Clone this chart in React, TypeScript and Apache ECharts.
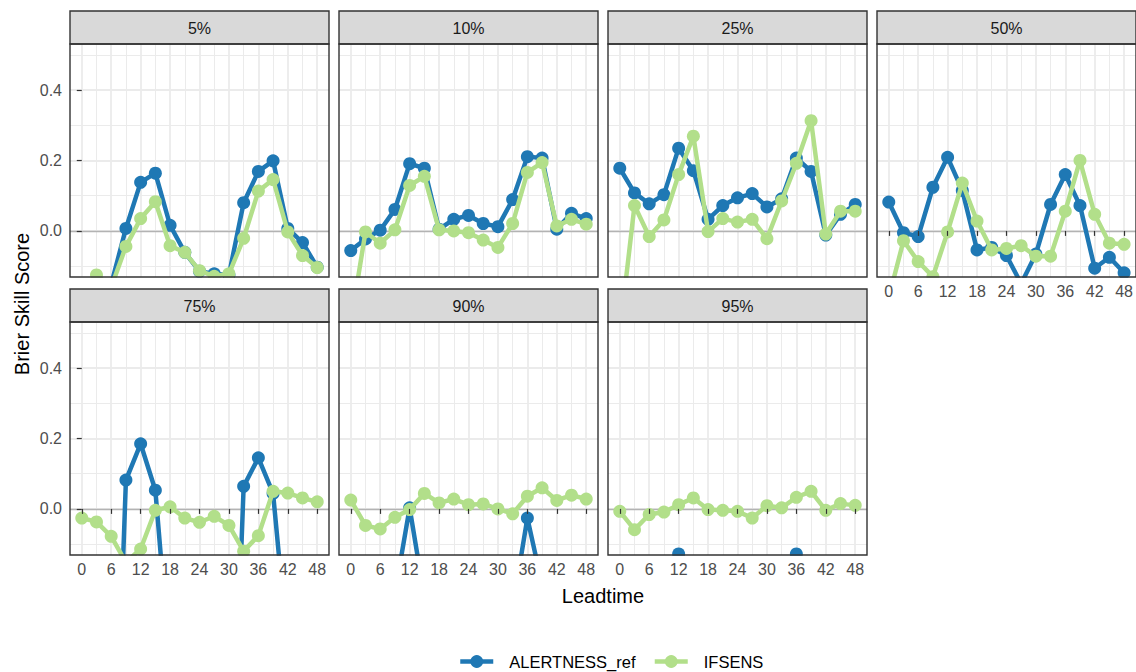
import React, { useEffect, useRef } from 'react';
import * as echarts from 'echarts';

// ---------- data ----------
const leadtimes = [0, 3, 6, 9, 12, 15, 18, 21, 24, 27, 30, 33, 36, 39, 42, 45, 48];
const panelLabels = ['5%', '10%', '25%', '50%', '75%', '90%', '95%'];
const seriesNames = ['ALERTNESS_ref', 'IFSENS'];
const xTickValues = [0, 6, 12, 18, 24, 30, 36, 42, 48];
const yTickValues = [0, 0.2, 0.4];
const xGridValues = [0, 3, 6, 9, 12, 15, 18, 21, 24, 27, 30, 33, 36, 39, 42, 45, 48];
const yGridValues = [-0.1, 0, 0.1, 0.2, 0.3, 0.4, 0.5];

const alert05 = [-0.35, -0.28, -0.152, 0.007, 0.138, 0.164, 0.016, -0.061, -0.115, -0.122, -0.125, 0.08, 0.169, 0.199, 0.007, -0.033, -0.103];
const ifs05 = [-0.3, -0.125, -0.16, -0.044, 0.035, 0.083, -0.042, -0.061, -0.113, -0.129, -0.122, -0.021, 0.113, 0.146, -0.003, -0.07, -0.104];

const alert10 = [-0.056, -0.023, 0.002, 0.061, 0.191, 0.178, 0.005, 0.033, 0.044, 0.021, 0.012, 0.089, 0.211, 0.207, 0.005, 0.05, 0.035];
const ifs10 = [-0.26, -0.003, -0.035, 0.003, 0.129, 0.155, 0.003, 0.0, -0.005, -0.026, -0.047, 0.021, 0.166, 0.194, 0.014, 0.033, 0.019];

const alert25 = [0.178, 0.108, 0.077, 0.103, 0.235, 0.171, 0.033, 0.072, 0.094, 0.106, 0.068, 0.091, 0.207, 0.169, -0.012, 0.047, 0.075];
const ifs25 = [-0.29, 0.072, -0.016, 0.031, 0.16, 0.269, -0.002, 0.035, 0.025, 0.033, -0.022, 0.085, 0.192, 0.313, -0.009, 0.056, 0.056];

const alert50 = [0.082, -0.005, -0.016, 0.124, 0.209, 0.115, -0.054, -0.047, -0.07, -0.15, -0.066, 0.075, 0.16, 0.072, -0.106, -0.075, -0.119];
const ifs50 = [-0.19, -0.028, -0.087, -0.13, -0.003, 0.136, 0.028, -0.054, -0.05, -0.042, -0.072, -0.072, 0.056, 0.2, 0.047, -0.035, -0.038];

const alert75 = [-1.2, -1.0, -1.1, 0.082, 0.185, 0.053, -0.45, -0.9, -1.0, -0.9, -1.05, 0.064, 0.145, 0.044, -0.4, -0.9, -1.0];
const ifs75 = [-0.026, -0.037, -0.078, -0.152, -0.114, -0.004, 0.006, -0.026, -0.038, -0.021, -0.047, -0.12, -0.076, 0.05, 0.045, 0.031, 0.02];

const alert90 = [-1.0, -0.9, -1.0, -0.24, 0.003, -0.25, -0.9, -1.0, -0.9, -1.0, -0.95, -0.28, -0.026, -0.215, -1.0, -0.9, -1.0];
const ifs90 = [0.025, -0.047, -0.057, -0.024, -0.002, 0.044, 0.017, 0.028, 0.012, 0.014, 0.0, -0.014, 0.036, 0.06, 0.024, 0.039, 0.028];

const alert95 = [-1.5, -1.5, -1.5, -1.5, -0.128, -1.5, -1.5, -1.5, -1.5, -1.5, -1.5, -1.5, -0.128, -1.5, -1.5, -1.5, -1.5];
const ifs95 = [-0.007, -0.059, -0.016, -0.009, 0.012, 0.031, -0.002, -0.004, -0.007, -0.026, 0.009, 0.003, 0.033, 0.05, -0.004, 0.015, 0.01];

const alertByPanel = [alert05, alert10, alert25, alert50, alert75, alert90, alert95];
const ifsByPanel = [ifs05, ifs10, ifs25, ifs50, ifs75, ifs90, ifs95];

// ---------- styling / layout ----------
const BLUE = '#1F78B4';
const GREEN = '#B2DF8A';
const FONT = '"Liberation Sans", Arial, Helvetica, sans-serif';
const COL_LEFT = [70, 339, 608, 877];
const ROW_TOP = [44, 322];
const STRIP_TOP = [11, 289];
const PW = 259;
const PH = 233;
const SH = 33;
const X_MIN = -2.4;
const X_MAX = 50.4;
const Y_MIN = -0.131;
const Y_MAX = 0.531;

export default function App() {
  const ref = useRef<HTMLDivElement>(null);

  useEffect(() => {
    if (!ref.current) return;
    const chart = echarts.init(ref.current, undefined, { renderer: 'svg' });

    const grids: any[] = [];
    const xAxes: any[] = [];
    const yAxes: any[] = [];
    const series: any[] = [];
    const graphics: any[] = [];

    panelLabels.forEach((label, i) => {
      const row = i < 4 ? 0 : 1;
      const col = i < 4 ? i : i - 4;
      const left = COL_LEFT[col];
      const top = ROW_TOP[row];
      const showX = i >= 3;
      const showY = col === 0;

      grids.push({ left, top, width: PW, height: PH, containLabel: false, show: false });

      xAxes.push({
        type: 'value',
        gridIndex: i,
        min: X_MIN,
        max: X_MAX,
        z: 60,
        axisLine: { show: false },
        axisTick: {
          show: showX,
          customValues: xTickValues,
          length: 5,
          lineStyle: { color: '#333333', width: 1.2 },
        },
        axisLabel: {
          show: showX,
          customValues: xTickValues,
          color: '#4D4D4D',
          fontSize: 16,
          fontFamily: FONT,
          margin: 6,
        },
        splitLine: { show: false },
      });

      yAxes.push({
        type: 'value',
        gridIndex: i,
        min: Y_MIN,
        max: Y_MAX,
        z: 60,
        axisLine: { show: false },
        axisTick: {
          show: showY,
          customValues: yTickValues,
          length: 5,
          lineStyle: { color: '#333333', width: 1.2 },
        },
        axisLabel: {
          show: showY,
          customValues: yTickValues,
          formatter: (v: number) => v.toFixed(1),
          color: '#4D4D4D',
          fontSize: 16,
          fontFamily: FONT,
          margin: 8,
        },
        splitLine: { show: false },
      });

      // grid lines + zero reference line
      series.push({
        type: 'line',
        xAxisIndex: i,
        yAxisIndex: i,
        data: [[0, 0]],
        showSymbol: false,
        symbol: 'none',
        lineStyle: { opacity: 0 },
        silent: true,
        z: 1,
        markLine: {
          silent: true,
          z: 1,
          symbol: ['none', 'none'],
          label: { show: false },
          emphasis: { disabled: true },
          animation: false,
          data: [
            ...xGridValues.map((v) => ({
              xAxis: v,
              lineStyle: { color: '#EBEBEB', width: v % 6 === 0 ? 1.8 : 1.0, type: 'solid' },
            })),
            ...yGridValues.map((v) => ({
              yAxis: v,
              lineStyle: {
                color: '#EBEBEB',
                width: Math.round(v * 10) % 2 === 0 ? 1.8 : 1.0,
                type: 'solid',
              },
            })),
            { yAxis: 0, lineStyle: { color: '#B3B3B3', width: 1.4, type: 'solid' } },
          ],
        },
      });

      const pairs = [
        { name: seriesNames[0], vals: alertByPanel[i], color: BLUE, z: 2 },
        { name: seriesNames[1], vals: ifsByPanel[i], color: GREEN, z: 3 },
      ];
      pairs.forEach((p) => {
        series.push({
          name: p.name,
          type: 'line',
          xAxisIndex: i,
          yAxisIndex: i,
          data: leadtimes.map((x, k) => [x, p.vals[k]]),
          symbol: 'circle',
          symbolSize: 13,
          showSymbol: true,
          showAllSymbol: true,
          clip: true,
          silent: true,
          z: p.z,
          lineStyle: { color: p.color, width: 4.5, join: 'round', cap: 'butt' },
          itemStyle: { color: p.color },
          emphasis: { disabled: true },
        });
      });

      // white covers for symbols overhanging the bottom edge
      graphics.push({
        type: 'rect',
        z: 50,
        silent: true,
        shape: { x: left - 3, y: top + PH + 0.8, width: PW + 6, height: 8 },
        style: { fill: '#FFFFFF' },
      });

      // strip
      graphics.push({
        type: 'rect',
        z: 70,
        silent: true,
        shape: { x: left, y: STRIP_TOP[row], width: PW, height: SH },
        style: { fill: '#D9D9D9', stroke: '#333333', lineWidth: 1.4 },
      });
      graphics.push({
        type: 'text',
        z: 71,
        silent: true,
        x: left + PW / 2,
        y: STRIP_TOP[row] + SH / 2 + 1,
        style: {
          text: label,
          fill: '#1A1A1A',
          font: `16px ${FONT}`,
          align: 'center',
          verticalAlign: 'middle',
        },
      });

      // panel border
      graphics.push({
        type: 'rect',
        z: 100,
        silent: true,
        shape: { x: left, y: top, width: PW, height: PH },
        style: { fill: 'none', stroke: '#333333', lineWidth: 1.4 },
      });
    });

    // axis titles
    graphics.push({
      type: 'text',
      z: 80,
      silent: true,
      x: 603,
      y: 596,
      style: {
        text: 'Leadtime',
        fill: '#000000',
        font: `20px ${FONT}`,
        align: 'center',
        verticalAlign: 'middle',
      },
    });
    graphics.push({
      type: 'text',
      z: 80,
      silent: true,
      x: 22,
      y: 304,
      rotation: Math.PI / 2,
      style: {
        text: 'Brier Skill Score',
        fill: '#000000',
        font: `20px ${FONT}`,
        align: 'center',
        verticalAlign: 'middle',
      },
    });

    chart.setOption({
      animation: false,
      backgroundColor: '#FFFFFF',
      grid: grids,
      xAxis: xAxes,
      yAxis: yAxes,
      series,
      graphic: { elements: graphics },
      legend: {
        data: seriesNames,
        left: 458,
        top: 653,
        padding: 0,
        itemWidth: 33,
        itemHeight: 16,
        itemGap: 17,
        selectedMode: false,
        lineStyle: { width: 4.5 },
        textStyle: { fontSize: 16.5, color: '#000000', fontFamily: FONT, padding: [0, 0, 0, 11] },
      },
    });

    return () => chart.dispose();
  }, []);

  return (
    <div
      ref={ref}
      style={{ position: 'absolute', left: 0, top: 0, width: 1136, height: 672 }}
    />
  );
}
